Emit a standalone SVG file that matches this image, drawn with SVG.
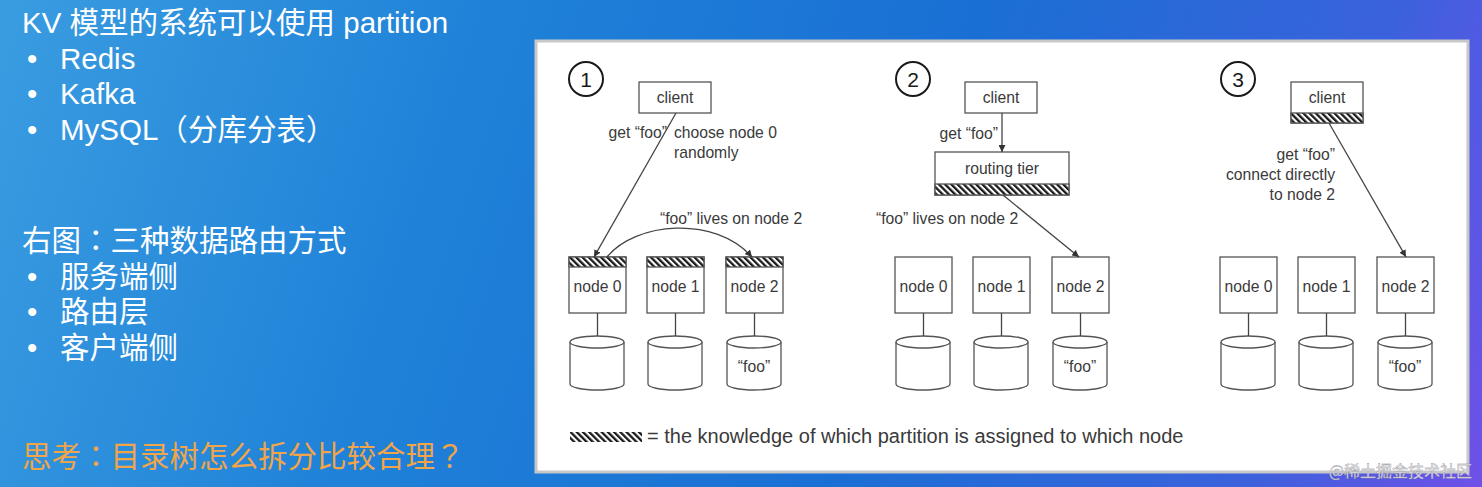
<svg xmlns="http://www.w3.org/2000/svg" width="1482" height="487" viewBox="0 0 1482 487">
<defs>
  <linearGradient id="bg" x1="0" y1="0" x2="1482" y2="487" gradientUnits="userSpaceOnUse">
    <stop offset="0" stop-color="#3a9ce0"/>
    <stop offset="0.3" stop-color="#1f82d8"/>
    <stop offset="0.6" stop-color="#1a6fd4"/>
    <stop offset="0.85" stop-color="#3a62dc"/>
    <stop offset="1" stop-color="#7050e8"/>
  </linearGradient>
  <pattern id="hatch" width="4.4" height="4.4" patternUnits="userSpaceOnUse" patternTransform="rotate(-45)">
    <rect width="4.4" height="4.4" fill="#ffffff"/>
    <rect width="2.3" height="4.4" fill="#1a1a1a"/>
  </pattern>
  <marker id="arr" viewBox="0 0 10 10" refX="10" refY="5" markerWidth="7" markerHeight="7" orient="auto" markerUnits="userSpaceOnUse">
    <path d="M0,0 L10,5 L0,10 z" fill="#333"/>
  </marker>
  <style>
    .slide{font-family:"Liberation Sans","Noto Sans CJK SC",sans-serif;font-size:29.5px;fill:#ffffff}
    .p{font-family:"Noto Sans CJK TC",sans-serif}
    .think{fill:#f2a548}
    .lbl{font-family:"Liberation Sans","Noto Sans CJK SC",sans-serif;font-size:15.7px;fill:#3a3a3a}
    .mid{text-anchor:middle}
    .end{text-anchor:end}
    .box{fill:#ffffff;stroke:#555;stroke-width:1.3}
    .hatch{fill:url(#hatch);stroke:#555;stroke-width:1.3}
    .ln{fill:none;stroke:#444;stroke-width:1.3}
    .num{fill:none;stroke:#1a1a1a;stroke-width:2}
    .numt{font-family:"Liberation Sans",sans-serif;font-size:21px;fill:#1a1a1a;text-anchor:middle}
  </style>
</defs>
<rect width="1482" height="487" fill="url(#bg)"/>

<g id="slide-text">
  <text class="slide" x="22" y="33">KV 模型的系统可以使用 partition</text>
  <text class="slide" x="27" y="69">•</text><text class="slide" x="60" y="69">Redis</text>
  <text class="slide" x="27" y="104">•</text><text class="slide" x="60" y="104">Kafka</text>
  <text class="slide" x="27" y="140">•</text><text class="slide" x="60" y="140">MySQL<tspan class="p">（</tspan>分库分表<tspan class="p">）</tspan></text>
  <text class="slide" x="22" y="251">右图<tspan class="p">：</tspan>三种数据路由方式</text>
  <text class="slide" x="27" y="287">•</text><text class="slide" x="60" y="287">服务端侧</text>
  <text class="slide" x="27" y="322">•</text><text class="slide" x="60" y="322">路由层</text>
  <text class="slide" x="27" y="358">•</text><text class="slide" x="60" y="358">客户端侧</text>
  <text class="slide think" x="22" y="467">思考<tspan class="p">：</tspan>目录树怎么拆分比较合理<tspan class="p">？</tspan></text>
</g>

<rect x="536" y="41" width="932" height="431" fill="#ffffff" stroke="#c8c8c8" stroke-width="3"/>

<!-- Panel 1 -->
<g id="p1-num"><circle class="num" cx="586" cy="79" r="17"/><text class="numt" x="586" y="87">1</text></g>
<g id="p1-client"><rect class="box" x="639" y="82" width="72" height="31"/><text class="lbl mid" x="675" y="103">client</text></g>
<g id="p1-node0"><rect class="box" x="569" y="257" width="57" height="56"/><rect class="hatch" x="569" y="257" width="57" height="10"/><text class="lbl mid" x="597.5" y="292">node 0</text></g>
<g id="p1-node1"><rect class="box" x="647" y="257" width="57" height="56"/><rect class="hatch" x="647" y="257" width="57" height="10"/><text class="lbl mid" x="675.5" y="292">node 1</text></g>
<g id="p1-node2"><rect class="box" x="726" y="257" width="57" height="56"/><rect class="hatch" x="726" y="257" width="57" height="10"/><text class="lbl mid" x="754.5" y="292">node 2</text></g>
<g id="p1-db0"><path class="box" d="M570,342 v42 a27,6 0 0 0 54,0 v-42"/><ellipse class="box" cx="597" cy="342" rx="27" ry="6"/></g>
<g id="p1-db1"><path class="box" d="M648,342 v42 a27,6 0 0 0 54,0 v-42"/><ellipse class="box" cx="675" cy="342" rx="27" ry="6"/></g>
<g id="p1-db2"><path class="box" d="M727,342 v42 a27,6 0 0 0 54,0 v-42"/><ellipse class="box" cx="754" cy="342" rx="27" ry="6"/><text class="lbl mid" x="754" y="372">“foo”</text></g>
<g id="p1-labels">
  <text class="lbl end" x="667" y="138">get “foo”</text>
  <text class="lbl" x="674" y="138">choose node 0</text>
  <text class="lbl" x="674" y="158">randomly</text>
  <text class="lbl" x="660" y="224">“foo” lives on node 2</text>
</g>

<!-- Panel 2 -->
<g id="p2-num"><circle class="num" cx="913" cy="79" r="17"/><text class="numt" x="913" y="87">2</text></g>
<g id="p2-client"><rect class="box" x="965" y="82" width="72" height="31"/><text class="lbl mid" x="1001" y="103">client</text></g>
<g id="p2-routing"><rect class="box" x="935" y="152" width="134" height="43"/><rect class="hatch" x="935" y="184" width="134" height="11"/><text class="lbl mid" x="1002" y="174">routing tier</text></g>
<g id="p2-node0"><rect class="box" x="895" y="257" width="57" height="56"/><text class="lbl mid" x="923.5" y="292">node 0</text></g>
<g id="p2-node1"><rect class="box" x="973" y="257" width="57" height="56"/><text class="lbl mid" x="1001.5" y="292">node 1</text></g>
<g id="p2-node2"><rect class="box" x="1052" y="257" width="57" height="56"/><text class="lbl mid" x="1080.5" y="292">node 2</text></g>
<g id="p2-db0"><path class="box" d="M896,342 v42 a27,6 0 0 0 54,0 v-42"/><ellipse class="box" cx="923" cy="342" rx="27" ry="6"/></g>
<g id="p2-db1"><path class="box" d="M974,342 v42 a27,6 0 0 0 54,0 v-42"/><ellipse class="box" cx="1001" cy="342" rx="27" ry="6"/></g>
<g id="p2-db2"><path class="box" d="M1053,342 v42 a27,6 0 0 0 54,0 v-42"/><ellipse class="box" cx="1080" cy="342" rx="27" ry="6"/><text class="lbl mid" x="1080" y="372">“foo”</text></g>
<g id="p2-labels">
  <text class="lbl end" x="998" y="139">get “foo”</text>
  <text class="lbl" x="876" y="224">“foo” lives on node 2</text>
</g>

<!-- Panel 3 -->
<g id="p3-num"><circle class="num" cx="1238" cy="79" r="17"/><text class="numt" x="1238" y="87">3</text></g>
<g id="p3-client"><rect class="box" x="1291" y="82" width="72" height="41"/><rect class="hatch" x="1291" y="113" width="72" height="10"/><text class="lbl mid" x="1327" y="103">client</text></g>
<g id="p3-node0"><rect class="box" x="1220" y="257" width="57" height="56"/><text class="lbl mid" x="1248.5" y="292">node 0</text></g>
<g id="p3-node1"><rect class="box" x="1298" y="257" width="57" height="56"/><text class="lbl mid" x="1326.5" y="292">node 1</text></g>
<g id="p3-node2"><rect class="box" x="1377" y="257" width="57" height="56"/><text class="lbl mid" x="1405.5" y="292">node 2</text></g>
<g id="p3-db0"><path class="box" d="M1221,342 v42 a27,6 0 0 0 54,0 v-42"/><ellipse class="box" cx="1248" cy="342" rx="27" ry="6"/></g>
<g id="p3-db1"><path class="box" d="M1299,342 v42 a27,6 0 0 0 54,0 v-42"/><ellipse class="box" cx="1326" cy="342" rx="27" ry="6"/></g>
<g id="p3-db2"><path class="box" d="M1378,342 v42 a27,6 0 0 0 54,0 v-42"/><ellipse class="box" cx="1405" cy="342" rx="27" ry="6"/><text class="lbl mid" x="1405" y="372">“foo”</text></g>
<g id="p3-labels">
  <text class="lbl end" x="1335" y="160">get “foo”</text>
  <text class="lbl end" x="1335" y="180">connect directly</text>
  <text class="lbl end" x="1335" y="200">to node 2</text>
</g>

<g id="connectors">
  <line class="ln" x1="676" y1="113" x2="594" y2="257" marker-end="url(#arr)"/>
  <path class="ln" d="M607,257 C635,222 715,215 752,257" marker-end="url(#arr)"/>
  <line class="ln" x1="597.5" y1="313" x2="597.5" y2="336"/>
  <line class="ln" x1="675.5" y1="313" x2="675.5" y2="336"/>
  <line class="ln" x1="754.5" y1="313" x2="754.5" y2="336"/>
  <line class="ln" x1="1002" y1="113" x2="1002" y2="152" marker-end="url(#arr)"/>
  <line class="ln" x1="1003" y1="195" x2="1079" y2="257" marker-end="url(#arr)"/>
  <line class="ln" x1="923.5" y1="313" x2="923.5" y2="336"/>
  <line class="ln" x1="1001.5" y1="313" x2="1001.5" y2="336"/>
  <line class="ln" x1="1080.5" y1="313" x2="1080.5" y2="336"/>
  <line class="ln" x1="1329" y1="123" x2="1406" y2="257" marker-end="url(#arr)"/>
  <line class="ln" x1="1248.5" y1="313" x2="1248.5" y2="336"/>
  <line class="ln" x1="1326.5" y1="313" x2="1326.5" y2="336"/>
  <line class="ln" x1="1405.5" y1="313" x2="1405.5" y2="336"/>
</g>

<g id="legend">
  <rect x="570" y="432" width="72" height="10" fill="url(#hatch)"/>
  <text class="lbl" x="647" y="443" style="font-size:20px">= the knowledge of which partition is assigned to which node</text>
</g>

<text x="1472" y="477" text-anchor="end" style="font-family:'Noto Sans CJK SC',sans-serif;font-size:16px;fill:#e6e6ee;stroke:#888;stroke-width:0.3">@稀土掘金技术社区</text>
</svg>
